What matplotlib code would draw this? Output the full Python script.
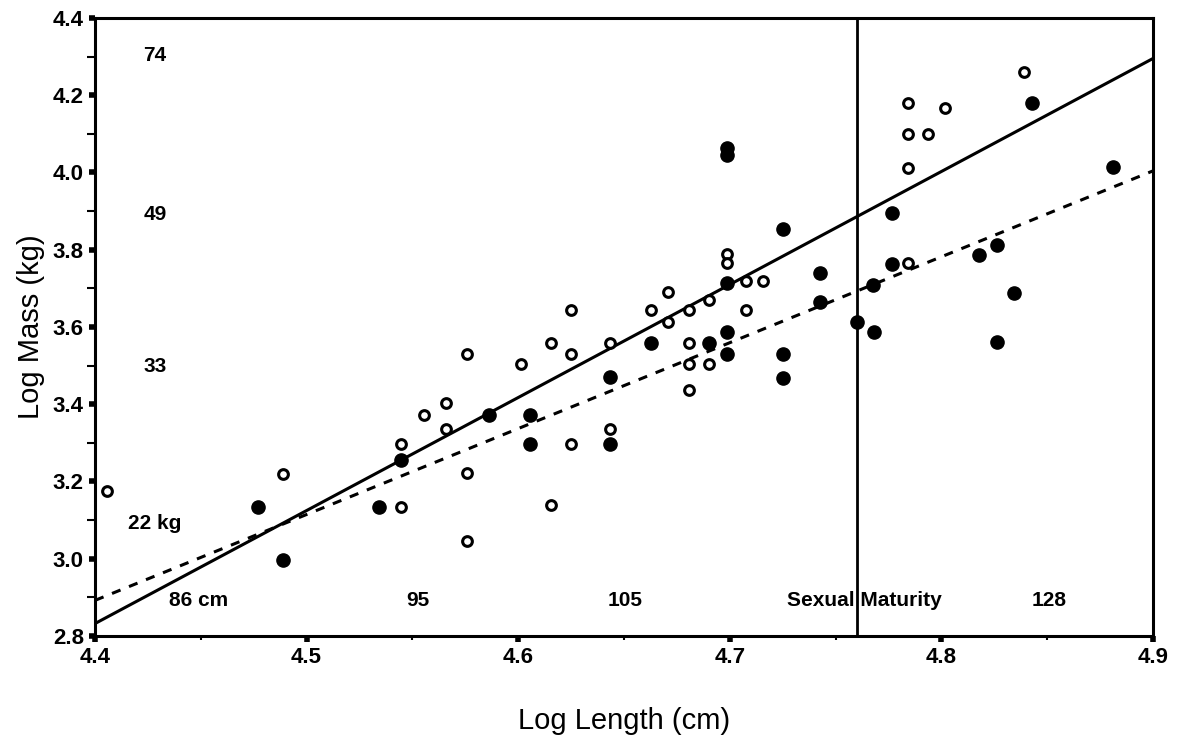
import numpy as np
import matplotlib
matplotlib.use("Agg")
from matplotlib import pyplot as plt
from matplotlib.ticker import MultipleLocator, FormatStrFormatter

plt.rcParams['font.family'] = ['Liberation Sans Narrow', 'Liberation Sans', 'DejaVu Sans']

# open circles (log length, log mass)
open_x = [4.4055, 4.4887, 4.5446, 4.5446, 4.5555, 4.5658, 4.5658, 4.5757, 4.5757, 4.5757,
          4.6012, 4.6153, 4.6153, 4.6250, 4.6250, 4.6250, 4.6434, 4.6434, 4.6628, 4.6710,
          4.6710, 4.6808, 4.6808, 4.6808, 4.6808, 4.6903, 4.6903, 4.6985, 4.6985, 4.7075,
          4.7075, 4.7158, 4.7844, 4.7844, 4.7935, 4.8015, 4.7844, 4.8390, 4.7844]
open_y = [3.176, 3.218, 3.296, 3.135, 3.372, 3.403, 3.335, 3.531, 3.221, 3.046,
          3.505, 3.559, 3.138, 3.643, 3.531, 3.298, 3.559, 3.335, 3.643, 3.690,
          3.614, 3.643, 3.559, 3.505, 3.438, 3.671, 3.505, 3.790, 3.766, 3.719,
          3.643, 3.719, 4.179, 4.100, 4.100, 4.166, 4.012, 4.259, 3.765]

# filled circles
fill_x = [4.4772, 4.4887, 4.5446, 4.5344, 4.5863, 4.6056, 4.6056, 4.6434, 4.6434, 4.6628,
          4.6903, 4.6985, 4.6985, 4.6985, 4.6985, 4.6985, 4.7253, 4.7253, 4.7253, 4.7426,
          4.7426, 4.7600, 4.7680, 4.7677, 4.7765, 4.7765, 4.8180, 4.8264, 4.8344, 4.8264,
          4.8430, 4.8810]
fill_y = [3.134, 2.996, 3.256, 3.135, 3.372, 3.372, 3.298, 3.471, 3.298, 3.559,
          3.559, 4.063, 4.045, 3.715, 3.588, 3.531, 3.853, 3.530, 3.469, 3.740,
          3.665, 3.614, 3.588, 3.709, 3.895, 3.763, 3.786, 3.811, 3.689, 3.562,
          4.181, 4.015]

# fitted lines (end points)
fit_x = [4.4, 4.9]
solid_y = [2.832, 4.295]
dashed_y = [2.892, 4.004]

maturity_x = 4.76

# reference labels: mass (kg) on the left, length (cm) along the bottom
mass_kg = [74, 49, 33, 22]
mass_txt = ['74', '49', '33', '22 kg']
length_pos = [4.449, 4.5526, 4.6505, 4.851]
length_txt = ['86 cm', '95', '105', '128']

fig = plt.figure(figsize=(11.82, 7.49), dpi=100)
ax = fig.add_axes([0.0804, 0.151, 0.895, 0.825])

ax.plot(fit_x, solid_y, color='black', lw=2.2, solid_capstyle='butt')
ax.plot(fit_x, dashed_y, color='black', lw=2.2, linestyle=(0, (3, 3)))
ax.axvline(maturity_x, color='black', lw=2)

ax.plot(open_x, open_y, 'o', ms=7, mfc='white', mec='black', mew=2.2, ls='none')
ax.plot(fill_x, fill_y, 'o', ms=9.5, mfc='black', mec='black', ls='none')

for m, t in zip(mass_kg, mass_txt):
    ax.text(4.4284, np.log(m), t, fontsize=15, fontweight='bold', ha='center', va='center')
for c, t in zip(length_pos, length_txt):
    ax.text(c, 2.892, t, fontsize=15, fontweight='bold', ha='center', va='center')
ax.text(4.7634, 2.892, 'Sexual Maturity', fontsize=15, fontweight='bold',
        ha='center', va='center')

ax.set_xlim(4.4, 4.9)
ax.set_ylim(2.8, 4.4)
ax.xaxis.set_major_locator(MultipleLocator(0.1))
ax.xaxis.set_minor_locator(MultipleLocator(0.05))
ax.yaxis.set_major_locator(MultipleLocator(0.2))
ax.yaxis.set_minor_locator(MultipleLocator(0.1))
ax.xaxis.set_major_formatter(FormatStrFormatter('%.1f'))
ax.yaxis.set_major_formatter(FormatStrFormatter('%.1f'))

for s in ax.spines.values():
    s.set_linewidth(2.2)
ax.tick_params(which='major', direction='out', length=4, width=4, labelsize=16, pad=4)
ax.tick_params(which='minor', direction='out', length=6, width=1.5)
ax.tick_params(axis='x', which='minor', length=3)
for lab in ax.get_xticklabels() + ax.get_yticklabels():
    lab.set_fontweight('bold')

ax.set_xlabel('Log Length (cm)', fontsize=21, labelpad=28)
ax.set_ylabel('Log Mass (kg)', fontsize=21, labelpad=6)

fig.savefig('out.png', dpi=100)
